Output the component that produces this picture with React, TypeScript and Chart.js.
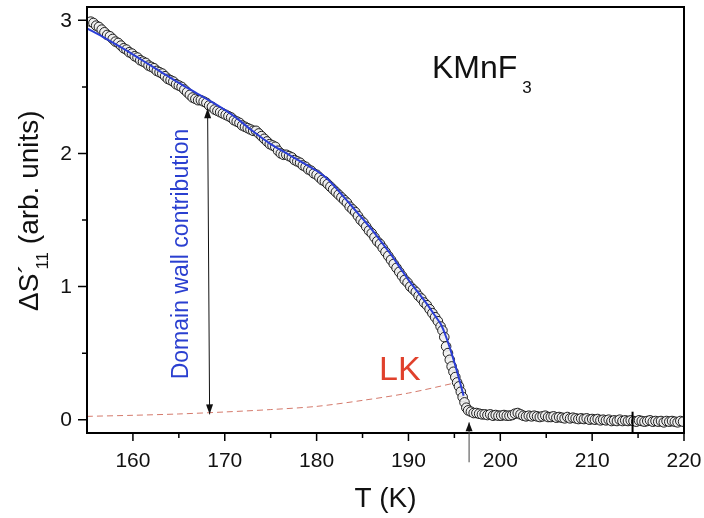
import React, { useEffect, useRef } from "react";
import { Chart, registerables } from "chart.js";

Chart.register(...registerables);

const xTickValues = [160, 170, 180, 190, 200, 210, 220];
const xMinorTicks = [165, 175, 185, 195, 205, 215];
const yTickValues = [0, 1, 2, 3];
const yMinorTicks = [0.5, 1.5, 2.5];

const measuredT = [
  155.4, 155.7, 156.0, 156.3, 156.6, 156.9, 157.2, 157.5, 157.8, 158.1, 158.4, 158.7, 159.0, 159.3, 159.6, 159.9,
  160.2, 160.5, 160.8, 161.1, 161.4, 161.7, 162.0, 162.3, 162.6, 162.9, 163.2, 163.5, 163.8, 164.1, 164.4, 164.7,
  165.0, 165.3, 165.6, 165.9, 166.2, 166.5, 166.8, 167.1, 167.4, 167.7, 168.0, 168.3, 168.6, 168.9, 169.2, 169.5,
  169.8, 170.1, 170.4, 170.7, 171.0, 171.3, 171.6, 171.9, 172.2, 172.5, 172.8, 173.1, 173.4, 173.7, 174.0, 174.3,
  174.6, 174.9, 175.2, 175.5, 175.8, 176.1, 176.4, 176.7, 177.0, 177.3, 177.6, 177.9, 178.2, 178.5, 178.8, 179.1,
  179.4, 179.7, 180.0, 180.3, 180.6, 180.9, 181.2, 181.5, 181.8, 182.1, 182.4, 182.7, 183.0, 183.3, 183.6, 183.9,
  184.2, 184.5, 184.8, 185.1, 185.4, 185.7, 186.0, 186.3, 186.6, 186.9, 187.2, 187.5, 187.8, 188.1, 188.4, 188.7,
  189.0, 189.3, 189.6, 189.9, 190.2, 190.5, 190.8, 191.1, 191.4, 191.7, 192.0, 192.3, 192.6, 192.9, 193.2, 193.5,
  193.7, 193.9, 194.1, 194.3, 194.5, 194.7, 194.9, 195.1, 195.3, 195.5, 195.7, 195.9, 196.1, 196.3, 196.5, 196.8,
  197.1, 197.4, 197.7, 198.0, 198.3, 198.6, 198.9, 199.2, 199.5, 199.8, 200.1, 200.4, 200.7, 201.0, 201.3, 201.6,
  201.9, 202.2, 202.5, 202.8, 203.1, 203.4, 203.7, 204.0, 204.3, 204.6, 204.9, 205.2, 205.5, 205.8, 206.1, 206.4,
  206.7, 207.0, 207.3, 207.6, 207.9, 208.2, 208.5, 208.8, 209.1, 209.4, 209.7, 210.0, 210.3, 210.6, 210.9, 211.2,
  211.5, 211.8, 212.1, 212.4, 212.7, 213.0, 213.3, 213.6, 213.9, 214.2, 214.5, 214.8, 215.1, 215.4, 215.7, 216.0,
  216.3, 216.6, 216.9, 217.2, 217.5, 217.8, 218.1, 218.4, 218.7, 219.0, 219.3, 219.6, 219.9,
];

const measuredS = [
  2.99, 2.98, 2.96, 2.95, 2.93, 2.91, 2.89, 2.88, 2.86, 2.84, 2.83, 2.81, 2.79, 2.78, 2.76, 2.75,
  2.73, 2.72, 2.70, 2.69, 2.68, 2.66, 2.65, 2.64, 2.62, 2.61, 2.60, 2.58, 2.56, 2.55, 2.54, 2.52,
  2.51, 2.50, 2.48, 2.46, 2.44, 2.42, 2.41, 2.40, 2.40, 2.39, 2.38, 2.36, 2.35, 2.33, 2.32, 2.31,
  2.30, 2.29, 2.28, 2.27, 2.25, 2.24, 2.23, 2.21, 2.20, 2.19, 2.18, 2.17, 2.17, 2.15, 2.13, 2.11,
  2.09, 2.07, 2.06, 2.05, 2.02, 2.00, 1.99, 1.99, 1.98, 1.97, 1.95, 1.94, 1.93, 1.91, 1.90, 1.88,
  1.87, 1.85, 1.84, 1.82, 1.80, 1.79, 1.77, 1.75, 1.73, 1.71, 1.69, 1.67, 1.65, 1.63, 1.60, 1.58,
  1.56, 1.53, 1.50, 1.48, 1.45, 1.42, 1.40, 1.37, 1.34, 1.32, 1.29, 1.26, 1.23, 1.20, 1.17, 1.14,
  1.11, 1.08, 1.05, 1.03, 1.00, 0.98, 0.96, 0.93, 0.91, 0.88, 0.86, 0.83, 0.80, 0.77, 0.74, 0.70,
  0.67, 0.62, 0.55, 0.50, 0.45, 0.40, 0.36, 0.32, 0.28, 0.25, 0.21, 0.17, 0.13, 0.09, 0.07, 0.06,
  0.05, 0.05, 0.045, 0.04, 0.04, 0.035, 0.04, 0.03, 0.035, 0.03, 0.03, 0.035, 0.03, 0.03, 0.035, 0.045,
  0.05, 0.04, 0.03, 0.025, 0.03, 0.025, 0.03, 0.025, 0.02, 0.025, 0.03, 0.02, 0.02, 0.025, 0.015, 0.02,
  0.015, 0.01, 0.02, 0.01, 0.015, 0.01, 0.005, 0.01, 0.005, 0.01, 0.0, 0.005, 0.0, 0.005, -0.005, 0.0,
  -0.005, 0.0, -0.01, -0.005, -0.01, 0.0, -0.01, -0.005, -0.01, -0.005, -0.01, -0.015, -0.005, -0.01, -0.015, -0.01,
  -0.005, -0.015, -0.01, -0.015, -0.01, -0.02, -0.01, -0.015, -0.01, -0.015, -0.02, -0.01, -0.015,
];

const fitT = [155, 157, 159, 161, 163, 165, 167, 169, 171, 173, 175, 177, 179, 180, 181, 182, 183, 184, 185, 186, 187, 188, 189, 190, 191, 192, 193, 193.5, 194, 194.5, 195, 195.5, 196];
const fitS = [2.94, 2.865, 2.785, 2.70, 2.615, 2.53, 2.45, 2.37, 2.28, 2.17, 2.07, 1.99, 1.91, 1.87, 1.82, 1.75, 1.67, 1.59, 1.51, 1.43, 1.34, 1.25, 1.15, 1.05, 0.96, 0.87, 0.77, 0.72, 0.64, 0.54, 0.43, 0.31, 0.18];

const lkT = [155, 160, 165, 170, 175, 180, 185, 190, 195];
const lkS = [0.025, 0.033, 0.043, 0.058, 0.076, 0.1, 0.145, 0.2, 0.275];

const FONT = '"Liberation Sans", Arial, Helvetica, sans-serif';

function arrowHead(ctx: CanvasRenderingContext2D, x1: number, y1: number, x2: number, y2: number, len: number, half: number) {
  const ang = Math.atan2(y2 - y1, x2 - x1);
  ctx.beginPath();
  ctx.moveTo(x2, y2);
  ctx.lineTo(x2 - len * Math.cos(ang) + half * Math.sin(ang), y2 - len * Math.sin(ang) - half * Math.cos(ang));
  ctx.lineTo(x2 - len * Math.cos(ang) - half * Math.sin(ang), y2 - len * Math.sin(ang) + half * Math.cos(ang));
  ctx.closePath();
  ctx.fill();
}

const overlay = {
  id: "overlay",
  afterDraw(chart: any) {
    const { ctx, chartArea: a, scales } = chart;
    const x = scales.x;
    const y = scales.y;
    ctx.save();
    // frame
    ctx.strokeStyle = "#000";
    ctx.lineWidth = 2;
    ctx.strokeRect(a.left, a.top, a.right - a.left, a.bottom - a.top);
    // ticks
    ctx.lineWidth = 1.5;
    ctx.beginPath();
    xTickValues.forEach((v) => {
      const px = x.getPixelForValue(v);
      ctx.moveTo(px, a.bottom);
      ctx.lineTo(px, a.bottom + 8);
    });
    xMinorTicks.forEach((v) => {
      const px = x.getPixelForValue(v);
      ctx.moveTo(px, a.bottom);
      ctx.lineTo(px, a.bottom + 5);
    });
    yTickValues.forEach((v) => {
      const py = y.getPixelForValue(v);
      ctx.moveTo(a.left, py);
      ctx.lineTo(a.left - 9, py);
    });
    yMinorTicks.forEach((v) => {
      const py = y.getPixelForValue(v);
      ctx.moveTo(a.left, py);
      ctx.lineTo(a.left - 5, py);
    });
    ctx.stroke();

    // tick labels
    ctx.fillStyle = "#111";
    ctx.font = `21px ${FONT}`;
    ctx.textAlign = "center";
    ctx.textBaseline = "alphabetic";
    xTickValues.forEach((v) => {
      ctx.fillText(String(v), x.getPixelForValue(v), a.bottom + 34);
    });
    ctx.textAlign = "right";
    ctx.textBaseline = "middle";
    yTickValues.forEach((v) => {
      ctx.fillText(String(v), a.left - 15, y.getPixelForValue(v) + 1);
    });

    // x title
    ctx.font = `28px ${FONT}`;
    ctx.textAlign = "center";
    ctx.textBaseline = "alphabetic";
    ctx.fillText("T (K)", (a.left + a.right) / 2, 507);

    // y title (rotated)
    ctx.save();
    ctx.translate(38, 311);
    ctx.rotate(-Math.PI / 2);
    ctx.textAlign = "left";
    ctx.textBaseline = "alphabetic";
    ctx.font = `28px ${FONT}`;
    const p1 = "\u0394S";
    ctx.fillText(p1, 0, 0);
    let w = ctx.measureText(p1).width;
    ctx.fillText("\u00B4", w, 0);
    ctx.font = `17px ${FONT}`;
    ctx.fillText("11", w + 4, 10);
    w += 4 + ctx.measureText("11").width;
    ctx.font = `28px ${FONT}`;
    ctx.fillText(" (arb. units)", w, 0);
    ctx.restore();

    // KMnF3
    ctx.fillStyle = "#111";
    ctx.textAlign = "left";
    ctx.font = `32px ${FONT}`;
    ctx.fillText("KMnF", 432, 78);
    const kw = ctx.measureText("KMnF").width;
    ctx.font = `17px ${FONT}`;
    ctx.fillText("3", 432 + kw + 5, 93);

    // LK label
    ctx.fillStyle = "#e0412c";
    ctx.font = `34px ${FONT}`;
    ctx.fillText("LK", 379, 380);

    // Domain wall contribution
    ctx.save();
    ctx.translate(188, 254);
    ctx.rotate(-Math.PI / 2);
    ctx.fillStyle = "#2a3fd0";
    ctx.textAlign = "center";
    ctx.font = `23px ${FONT}`;
    ctx.fillText("Domain wall contribution", 0, 0);
    ctx.restore();

    // double arrow
    ctx.strokeStyle = "#111";
    ctx.fillStyle = "#111";
    ctx.lineWidth = 1;
    const ax1 = x.getPixelForValue(168.35), ay1 = y.getPixelForValue(0.04);
    const ax2 = x.getPixelForValue(168.13), ay2 = y.getPixelForValue(2.34);
    ctx.beginPath();
    ctx.moveTo(ax1, ay1);
    ctx.lineTo(ax2, ay2);
    ctx.stroke();
    arrowHead(ctx, ax1, ay1, ax2, ay2, 10, 3.5);
    arrowHead(ctx, ax2, ay2, ax1, ay1, 10, 3.5);

    // small Tc arrow
    ctx.strokeStyle = "#444";
    ctx.fillStyle = "#111";
    const bx1 = x.getPixelForValue(196.6), by1 = y.getPixelForValue(-0.32);
    const bx2 = x.getPixelForValue(196.6), by2 = y.getPixelForValue(-0.02);
    ctx.beginPath();
    ctx.moveTo(bx1, by1);
    ctx.lineTo(bx2, by2);
    ctx.stroke();
    arrowHead(ctx, bx1, by1, bx2, by2, 9, 3.5);

    // short marker at 214.4
    ctx.strokeStyle = "#000";
    ctx.lineWidth = 2;
    ctx.beginPath();
    ctx.moveTo(x.getPixelForValue(214.4), y.getPixelForValue(0.06));
    ctx.lineTo(x.getPixelForValue(214.4), y.getPixelForValue(-0.1));
    ctx.stroke();

    ctx.restore();
  },
};

export default function App() {
  const ref = useRef<HTMLCanvasElement | null>(null);
  useEffect(() => {
    if (!ref.current) return;
    const chart = new Chart(ref.current, {
      type: "scatter",
      data: {
        datasets: [
          {
            type: "line",
            data: fitT.map((t, i) => ({ x: t, y: fitS[i] })),
            borderColor: "#2b3ed6",
            borderWidth: 2,
            pointRadius: 0,
            tension: 0.3,
            fill: false,
          } as any,
          {
            data: measuredT.map((t, i) => ({ x: t, y: measuredS[i] })),
            pointRadius: 4.8,
            pointBorderWidth: 1,
            pointBorderColor: "rgba(20,20,20,0.95)",
            pointBackgroundColor: "rgba(240,240,240,0.9)",
            showLine: false,
          },
          {
            type: "line",
            data: lkT.map((t, i) => ({ x: t, y: lkS[i] })),
            borderColor: "#d47a6c",
            borderWidth: 1,
            borderDash: [6, 4],
            pointRadius: 0,
            tension: 0.3,
            fill: false,
          } as any,
        ],
      },
      options: {
        responsive: false,
        animation: false,
        events: [],
        layout: { padding: { left: 87, right: 20, top: 7, bottom: 85 } },
        plugins: { legend: { display: false }, tooltip: { enabled: false } },
        scales: {
          x: { type: "linear", min: 155, max: 220, display: false },
          y: { type: "linear", min: -0.1, max: 3.1, display: false },
        },
      },
      plugins: [overlay],
    });
    return () => chart.destroy();
  }, []);
  return (
    <div style={{ position: "absolute", left: 0, top: 0, width: 704, height: 518, background: "#fff" }}>
      <canvas ref={ref} width={704} height={518} style={{ width: 704, height: 518 }} />
    </div>
  );
}
